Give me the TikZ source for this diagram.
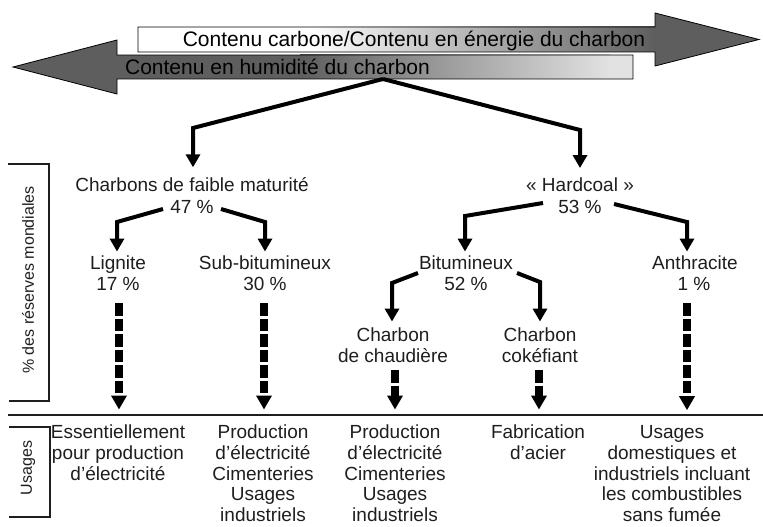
\documentclass[tikz,border=0pt]{standalone}
\usepackage{fontspec}
\setmainfont{Liberation Sans}
\usetikzlibrary{arrows.meta}
\definecolor{ink}{HTML}{1E1E1E}
\definecolor{arrowgray}{HTML}{5E5E5E}
\definecolor{lightend}{HTML}{E2E2E2}
\begin{document}
\begin{tikzpicture}[x=1pt,y=-1pt,
  lbl/.style={font=\fontsize{19}{20.8}\selectfont, text=ink, inner sep=0pt, align=center, anchor=base},
  toplbl/.style={font=\fontsize{21}{24}\selectfont, text=black, inner sep=0pt, anchor=base},
  side/.style={font=\fontsize{16}{18}\selectfont, text=ink, inner sep=0pt, rotate=90},
  arrowline/.style={draw=black, line width=0.8pt, line join=miter},
  tree/.style={draw=black, line width=4pt, line join=miter, -{Triangle[width=14pt,length=13pt]}},
  usage/.style={draw=black, line width=8pt, dash pattern=on 12.5pt off 3pt, -{Triangle[width=15pt,length=14pt]}},
  brk/.style={draw=ink, line width=1.1pt}]
\useasboundingbox (0,0) rectangle (763,527);

% --- top arrows ---
\fill[white] (138,27) rectangle (310,52);
\shade[left color=white, right color=arrowgray] (310,27) rectangle (655,52);
\fill[arrowgray] (655,13) -- (759,39.5) -- (655,66) -- cycle;
\draw[arrowline] (138,27) -- (655,27) -- (655,13) -- (759,39.5) -- (655,66) -- (655,52) -- (138,52) -- cycle;

\fill[arrowgray] (117,40) -- (13,67) -- (117,94) -- cycle;
\fill[arrowgray] (117,55) rectangle (300,79);
\shade[left color=arrowgray, right color=lightend] (300,55) rectangle (610,79);
\fill[lightend] (610,55) rectangle (633,79);
\draw[arrowline] (633,55) -- (117,55) -- (117,40) -- (13,67) -- (117,94) -- (117,79) -- (633,79) -- cycle;

\node[toplbl] (carb) at (414,47) {Contenu carbone/Contenu en énergie du charbon};
\node[toplbl] (hum) at (277.5,74.5) {Contenu en humidité du charbon};

% --- side brackets and separator ---
\draw[brk] (8,164) -- (49,164) -- (49,401) -- (9,401);
\draw[brk] (9,427) -- (50,427) -- (50,517) -- (9,517);
\draw[draw=ink, line width=1.8pt] (8,415) -- (763,415);
\node[side] (res) at (28,280) {\% des réserves mondiales};
\node[side] (usg) at (28,468) {Usages};

% --- tree nodes ---
\node[lbl] (faible) at (192,191.5) {Charbons de faible maturité};
\node[lbl] (p47) at (192,213.5) {47~\%};
\node[lbl] (hard) at (580,191.5) {«~Hardcoal~»};
\node[lbl] (p53) at (580,213.5) {53~\%};
\node[lbl] (lig) at (118,269) {Lignite};
\node[lbl] (p17) at (118,290.5) {17~\%};
\node[lbl] (sub) at (265,269) {Sub-bitumineux};
\node[lbl] (p30) at (265,290.5) {30~\%};
\node[lbl] (bit) at (466,269) {Bitumineux};
\node[lbl] (p52) at (466,290.5) {52~\%};
\node[lbl] (anth) at (695,269) {Anthracite};
\node[lbl] (p1) at (694,290.5) {1~\%};
\node[lbl] (chau) at (393,362.3) {Charbon\\de chaudière};
\node[lbl] (coke) at (540,362.3) {Charbon\\cokéfiant};

% --- bend points ---
\coordinate (split) at (383,79);
\coordinate (cFa) at (193,128);
\coordinate (cHa) at (580,130);
\coordinate (sLig) at (163,209);
\coordinate (cLig) at (117,222);
\coordinate (sSub) at (221,209);
\coordinate (cSub) at (265,222);
\coordinate (sBit) at (543,203);
\coordinate (cBit) at (465,216);
\coordinate (sAnt) at (614,204);
\coordinate (cAnt) at (687,222);
\coordinate (sCha) at (418,273);
\coordinate (cCha) at (392,283);
\coordinate (sCok) at (517,273);
\coordinate (cCok) at (540,282);

\draw[tree, shorten >=10pt] (split) -- (cFa) -- (cFa |- faible.north);
\draw[tree, shorten >=9.5pt] (split) -- (cHa) -- (cHa |- hard.north);
\draw[tree, shorten >=3.5pt] (sLig) -- (cLig) -- (cLig |- lig.north);
\draw[tree, shorten >=3.5pt] (sSub) -- (cSub) -- (cSub |- sub.north);
\draw[tree, shorten >=3.5pt] (sBit) -- (cBit) -- (cBit |- bit.north);
\draw[tree, shorten >=3.5pt] (sAnt) -- (cAnt) -- (cAnt |- anth.north);
\draw[tree, shorten >=6pt] (sCha) -- (cCha) -- (cCha |- chau.north);
\draw[tree, shorten >=6pt] (sCok) -- (cCok) -- (cCok |- coke.north);

% --- usages (anchor = baseline of last line) ---
\node[lbl] (u1) at (118,480.1) {Essentiellement\\pour production\\d’électricité};
\node[lbl] (u2) at (263,521.7) {Production\\d’électricité\\Cimenteries\\Usages\\industriels};
\node[lbl] (u3) at (395,521.7) {Production\\d’électricité\\Cimenteries\\Usages\\industriels};
\node[lbl] (u4) at (538,459.3) {Fabrication\\d’acier};
\node[lbl] (u5) at (672,521.7) {Usages\\domestiques et\\industriels incluant\\les combustibles\\sans fumée};

\coordinate (dLig) at (119,303);
\coordinate (dSub) at (264,303);
\coordinate (dCha) at (395,370);
\coordinate (dCok) at (539,370);
\coordinate (dAnt) at (687,303);
\draw[usage, shorten >=15pt] (dLig) -- (dLig |- u1.north);
\draw[usage, shorten >=15pt] (dSub) -- (dSub |- u2.north);
\draw[usage, shorten >=15pt] (dCha) -- (dCha |- u3.north);
\draw[usage, shorten >=15pt] (dCok) -- (dCok |- u4.north);
\draw[usage, shorten >=15pt] (dAnt) -- (dAnt |- u5.north);
\end{tikzpicture}
\end{document}
